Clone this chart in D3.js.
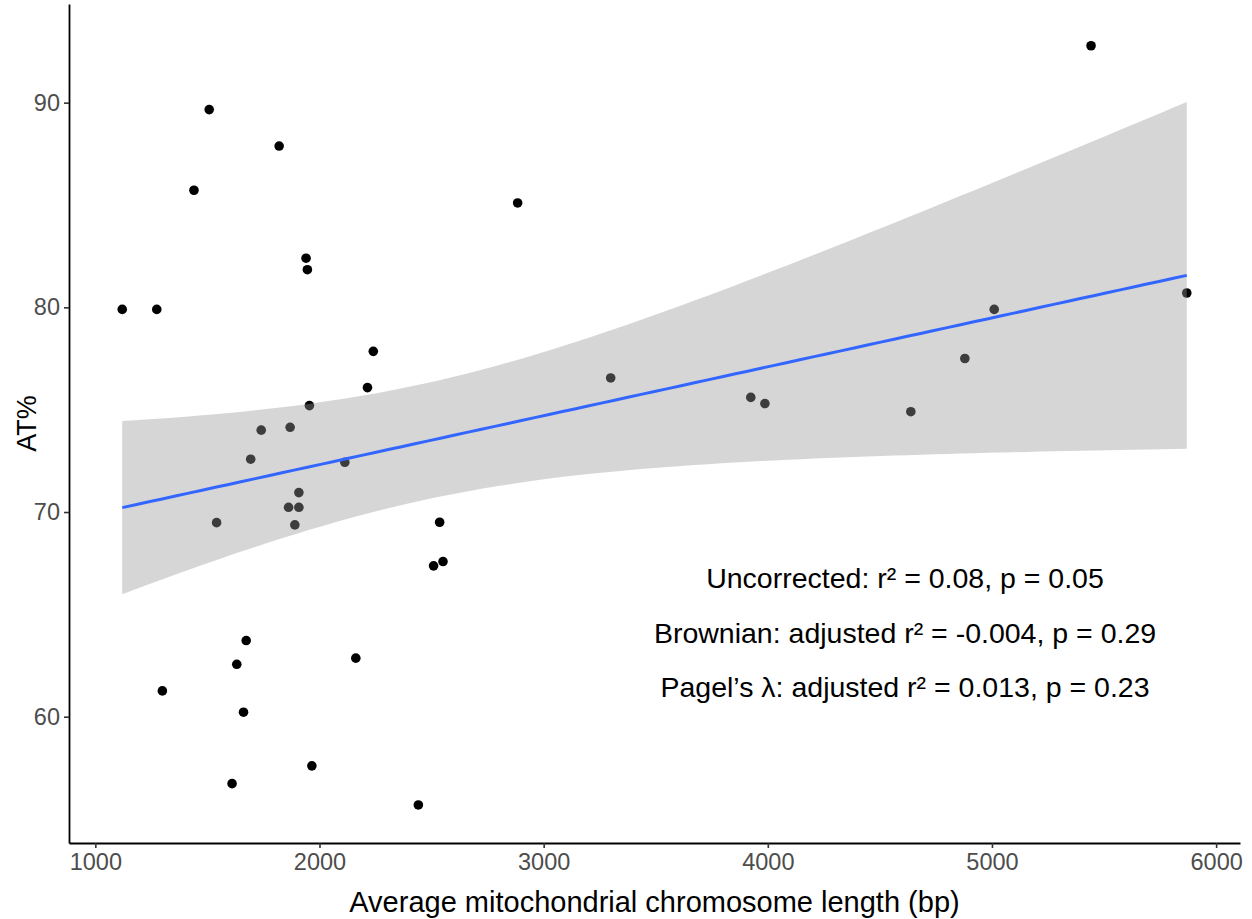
<!DOCTYPE html>
<html>
<head>
<meta charset="utf-8">
<script src="https://cdn.jsdelivr.net/npm/d3@7"></script>
<style>
  html, body { margin: 0; padding: 0; background: #fff; }
  svg { display: block; font-family: "Liberation Sans", Arial, Helvetica, sans-serif; }
</style>
</head>
<body>
<svg id="chart" width="1252" height="919"></svg>
<script>
// ---- data ----
const chromLength = [1120, 1274, 1299, 1440, 1508, 1541, 1610, 1631, 1661, 1673,
  1693, 1740, 1820, 1862, 1869, 1890, 1908, 1908, 1940, 1946,
  1955, 1966, 2113, 2162, 2214, 2240, 2441, 2509, 2536, 2551,
  2884, 3299, 3924, 3987, 4638, 4879, 5010, 5442, 5869];
const atPercent = [79.9, 79.9, 61.26, 85.72, 89.66, 69.48, 56.73, 62.56, 60.22, 63.72,
  72.58, 74.0, 87.88, 70.23, 74.14, 69.37, 70.95, 70.23, 82.40, 81.84,
  75.2, 57.6, 72.43, 62.86, 76.08, 77.85, 55.69, 67.37, 69.5, 67.58,
  85.1, 76.55, 75.6, 75.3, 74.9, 77.5, 79.9, 92.78, 80.7];
const xTicks = [1000, 2000, 3000, 4000, 5000, 6000];
const yTicks = [60, 70, 80, 90];
const xDomain = [882.5, 6106.5];
const yDomain = [53.83, 94.82];
const annotations = [
  "Uncorrected: r\u00B2 = 0.08, p = 0.05",
  "Brownian: adjusted r\u00B2 = -0.004, p = 0.29",
  "Pagel\u2019s \u03BB: adjusted r\u00B2 = 0.013, p = 0.23"
];
const xTitle = "Average mitochondrial chromosome length (bp)";
const yTitle = "AT%";
const tCrit = 2.026; // t(0.975, df = 37)

// ---- layout ----
const panel = { left: 69, right: 1240, top: 4, bottom: 843 };
const svg = d3.select("#chart");

const x = d3.scaleLinear().domain(xDomain).range([panel.left, panel.right]);
const y = d3.scaleLinear().domain(yDomain).range([panel.bottom, panel.top]);

const pts = chromLength.map((v, i) => ({ x: v, y: atPercent[i] }));

// ---- linear fit (lm) with 95% confidence band ----
const n = pts.length;
const mx = d3.mean(pts, d => d.x), my = d3.mean(pts, d => d.y);
const sxx = d3.sum(pts, d => (d.x - mx) ** 2);
const sxy = d3.sum(pts, d => (d.x - mx) * (d.y - my));
const b1 = sxy / sxx, b0 = my - b1 * mx;
const sse = d3.sum(pts, d => (d.y - (b0 + b1 * d.x)) ** 2);
const s = Math.sqrt(sse / (n - 2));
const [xmin, xmax] = d3.extent(pts, d => d.x);
const grid = d3.range(0, 81).map(i => xmin + (xmax - xmin) * i / 80);
const fit = grid.map(gx => {
  const yh = b0 + b1 * gx;
  const se = s * Math.sqrt(1 / n + (gx - mx) ** 2 / sxx);
  return { x: gx, y: yh, lo: yh - tCrit * se, hi: yh + tCrit * se };
});

// ---- points ----
svg.append("g").selectAll("circle").data(pts).join("circle")
  .attr("cx", d => x(d.x)).attr("cy", d => y(d.y))
  .attr("r", 4.8).attr("fill", "#000");

// ---- band ----
svg.append("path").datum(fit)
  .attr("d", d3.area().x(d => x(d.x)).y0(d => y(d.lo)).y1(d => y(d.hi)))
  .attr("fill", "#999999").attr("fill-opacity", 0.4);

// ---- fit line ----
svg.append("path").datum(fit)
  .attr("d", d3.line().x(d => x(d.x)).y(d => y(d.y)))
  .attr("fill", "none").attr("stroke", "#3366FF").attr("stroke-width", 3);

// ---- axes ----
const xAxis = svg.append("g").attr("transform", `translate(0,${panel.bottom})`)
  .call(d3.axisBottom(x).tickValues(xTicks).tickFormat(d3.format("d")).tickSizeInner(5).tickSizeOuter(0).tickPadding(5));
const yAxis = svg.append("g").attr("transform", `translate(${panel.left},0)`)
  .call(d3.axisLeft(y).tickValues(yTicks).tickFormat(d3.format("d")).tickSizeInner(5).tickSizeOuter(0).tickPadding(4));
[xAxis, yAxis].forEach(g => {
  g.select(".domain").attr("stroke", "#000").attr("stroke-width", 1.8);
  g.selectAll(".tick line").attr("stroke", "#333").attr("stroke-width", 1.6);
  g.selectAll(".tick text").attr("fill", "#4d4d4d").attr("font-size", 23.5)
    .attr("font-family", "'Liberation Sans', Arial, sans-serif");
});

// ---- titles ----
svg.append("text").attr("x", (panel.left + panel.right) / 2).attr("y", 912)
  .attr("text-anchor", "middle").attr("font-size", 29).attr("fill", "#000").text(xTitle);
svg.append("text").attr("transform", `translate(36,${(panel.top + panel.bottom) / 2}) rotate(-90)`)
  .attr("text-anchor", "middle").attr("font-size", 27).attr("fill", "#000").text(yTitle);

// ---- annotations ----
svg.append("g").selectAll("text").data(annotations).join("text")
  .attr("x", 905).attr("y", (d, i) => 588 + i * 54.5)
  .attr("text-anchor", "middle").attr("font-size", 28.5).attr("fill", "#000")
  .text(d => d);
</script>
</body>
</html>
